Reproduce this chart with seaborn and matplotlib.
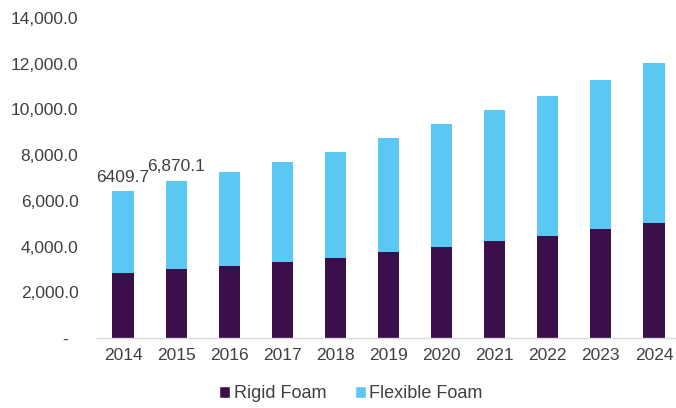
import matplotlib
matplotlib.use("Agg")
import matplotlib.pyplot as plt
import seaborn as sns
import pandas as pd
from matplotlib.patches import Patch

# Market volume by product type (tons)
years = ["2014", "2015", "2016", "2017", "2018", "2019", "2020", "2021", "2022", "2023", "2024"]
rigid_foam = [2840.0, 3020.0, 3150.0, 3325.0, 3500.0, 3760.0, 3980.0, 4240.0, 4460.0, 4770.0, 5030.0]
flexible_foam = [3569.7, 3850.1, 4112.0, 4375.0, 4637.0, 4989.0, 5381.0, 5734.0, 6126.0, 6516.0, 7000.0]
total_labels = ["6409.7", "6,870.1"]
y_ticks = [0, 2000, 4000, 6000, 8000, 10000, 12000, 14000]

rigid_color = "#3b0f4b"
flexible_color = "#5bc8f3"
text_color = "#404040"

df = pd.DataFrame({"year": years, "rigid": rigid_foam, "flexible": flexible_foam})
df["total"] = df["rigid"] + df["flexible"]

sns.set_theme(style="white")
plt.rcParams["font.family"] = ["Liberation Sans", "DejaVu Sans"]

fig = plt.figure(figsize=(6.76, 4.08), dpi=100)
W, H = 676, 408
ax = fig.add_axes([96.5 / W, (H - 338) / H, (680.5 - 96.5) / W, (338 - 18) / H])

# Stacked bars: full height in the flexible colour, rigid portion drawn over it
sns.barplot(data=df, x="year", y="total", order=years, color=flexible_color,
            width=0.4, saturation=1, ax=ax, linewidth=0)
sns.barplot(data=df, x="year", y="rigid", order=years, color=rigid_color,
            width=0.4, saturation=1, ax=ax, linewidth=0)

for i, lab in enumerate(total_labels):
    ax.annotate(lab, (i, df["total"].iloc[i]), xytext=(0, 5), textcoords="offset points",
                ha="center", va="bottom", fontsize=12.5, color=text_color)

ax.set_xlim(-0.5, len(years) - 0.5)
ax.set_ylim(0, 14000)
ax.set_yticks(y_ticks)
ax.set_yticklabels([f"{v:,.1f}" if v else "-  " for v in y_ticks])
ax.set_xlabel("")
ax.set_ylabel("")
ax.tick_params(axis="y", length=0, pad=13, labelsize=12.5, labelcolor=text_color)
ax.tick_params(axis="x", length=0, pad=7, labelsize=12.5, labelcolor=text_color)

for s in ["top", "right", "left"]:
    ax.spines[s].set_visible(False)
ax.spines["bottom"].set_color("#d9d9d9")
ax.spines["bottom"].set_linewidth(1)
ax.grid(False)

handles = [Patch(facecolor=rigid_color, label="Rigid Foam"),
           Patch(facecolor=flexible_color, label="Flexible Foam")]
fig.legend(handles=handles, loc="center", bbox_to_anchor=(351 / W, (H - 394) / H),
           ncol=2, frameon=False, fontsize=13, handlelength=0.6, handleheight=0.6,
           handletextpad=0.2, columnspacing=1.6, labelcolor=text_color)

fig.savefig("out.png", dpi=100)
